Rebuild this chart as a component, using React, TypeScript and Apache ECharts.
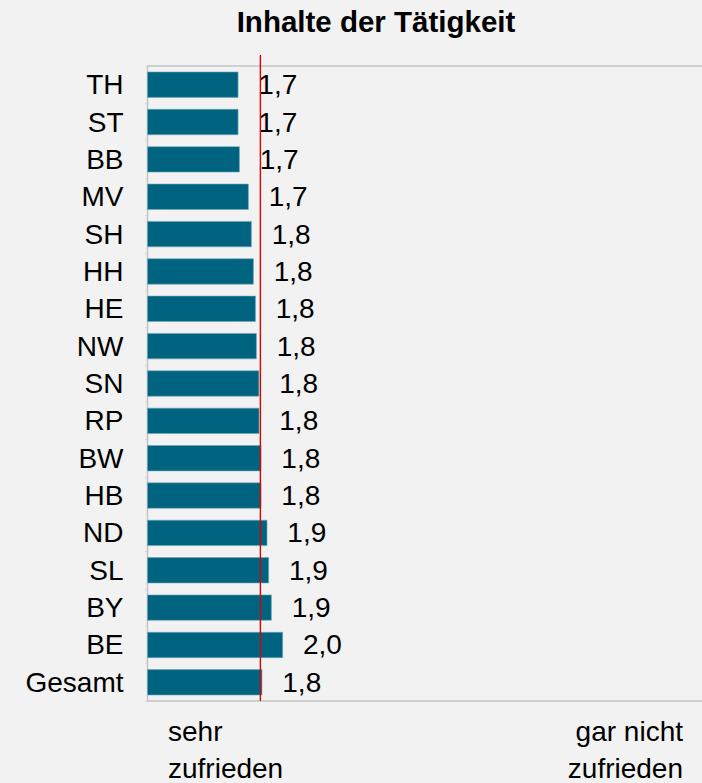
import React, { useEffect, useRef } from "react";
import * as echarts from "echarts";

const chartTitle = "Inhalte der Tätigkeit";
const categories = ["TH", "ST", "BB", "MV", "SH", "HH", "HE", "NW", "SN", "RP", "BW", "HB", "ND", "SL", "BY", "BE", "Gesamt"];
const values = [1.668, 1.668, 1.678, 1.744, 1.766, 1.781, 1.796, 1.803, 1.821, 1.822, 1.837, 1.837, 1.881, 1.893, 1.913, 1.996, 1.844];
const referenceValue = 1.83;
const scaleMin = 1;
const scaleMax = 6;
const leftCaption = ["sehr", "zufrieden"];
const rightCaption = ["gar nicht", "zufrieden"];

const FONT = "'Liberation Sans', Arial, Helvetica, sans-serif";

export default function App() {
  const ref = useRef<HTMLDivElement>(null);

  useEffect(() => {
    if (!ref.current) return;
    const chart = echarts.init(ref.current, null, { renderer: "svg" });
    chart.setOption({
      animation: false,
      backgroundColor: "#f2f2f2",
      grid: {
        left: 147.5,
        top: 66,
        width: 680,
        height: 635,
        show: true,
        borderColor: "#c4c4c4",
        borderWidth: 1.5,
        backgroundColor: "transparent",
      },
      xAxis: {
        type: "value",
        min: scaleMin,
        max: scaleMax,
        show: false,
        splitLine: { show: false },
      },
      yAxis: {
        type: "category",
        inverse: true,
        data: categories,
        axisLine: { show: false },
        axisTick: { show: true, length: 2, lineStyle: { color: "#d0d0d0" } },
        axisLabel: {
          fontSize: 28,
          color: "#000",
          margin: 24,
          fontFamily: FONT,
        },
        splitLine: { show: false },
      },
      series: [
        {
          type: "bar",
          data: values,
          barWidth: 26,
          itemStyle: {
            color: "#00637f",
            borderColor: "#6fa7ba",
            borderWidth: 0.6,
          },
          label: {
            show: true,
            position: "right",
            distance: 20,
            fontSize: 28,
            color: "#000",
            fontFamily: FONT,
            formatter: (p: any) => Number(p.value).toFixed(1).replace(".", ","),
          },
        },
      ],
    });

    const refX = chart.convertToPixel({ xAxisIndex: 0 }, referenceValue) as number;
    const gridBottom = 66 + 635;

    chart.setOption({
      graphic: [
        {
          type: "text",
          x: 376,
          y: 21.7,
          style: {
            text: chartTitle,
            fontSize: 29.5,
            fontWeight: "bold",
            fontFamily: FONT,
            fill: "#000",
            align: "center",
            verticalAlign: "middle",
          },
        },
        {
          type: "line",
          shape: { x1: refX, y1: 55, x2: refX, y2: gridBottom },
          style: { stroke: "#e00000", lineWidth: 1.4 },
          z: 100,
        },
        {
          type: "text",
          x: 168,
          y: 731,
          style: { text: leftCaption[0], fontSize: 28, fontFamily: FONT, fill: "#000", align: "left", verticalAlign: "middle" },
        },
        {
          type: "text",
          x: 168,
          y: 768,
          style: { text: leftCaption[1], fontSize: 28, fontFamily: FONT, fill: "#000", align: "left", verticalAlign: "middle" },
        },
        {
          type: "text",
          x: 683,
          y: 731,
          style: { text: rightCaption[0], fontSize: 28, fontFamily: FONT, fill: "#000", align: "right", verticalAlign: "middle" },
        },
        {
          type: "text",
          x: 683,
          y: 768,
          style: { text: rightCaption[1], fontSize: 28, fontFamily: FONT, fill: "#000", align: "right", verticalAlign: "middle" },
        },
      ],
    });

    return () => chart.dispose();
  }, []);

  return (
    <div style={{ position: "fixed", left: 0, top: 0, width: 702, height: 783, overflow: "hidden", background: "#f2f2f2" }}>
      <div ref={ref} style={{ position: "absolute", left: 0, top: 0, width: 840, height: 783 }} />
    </div>
  );
}
